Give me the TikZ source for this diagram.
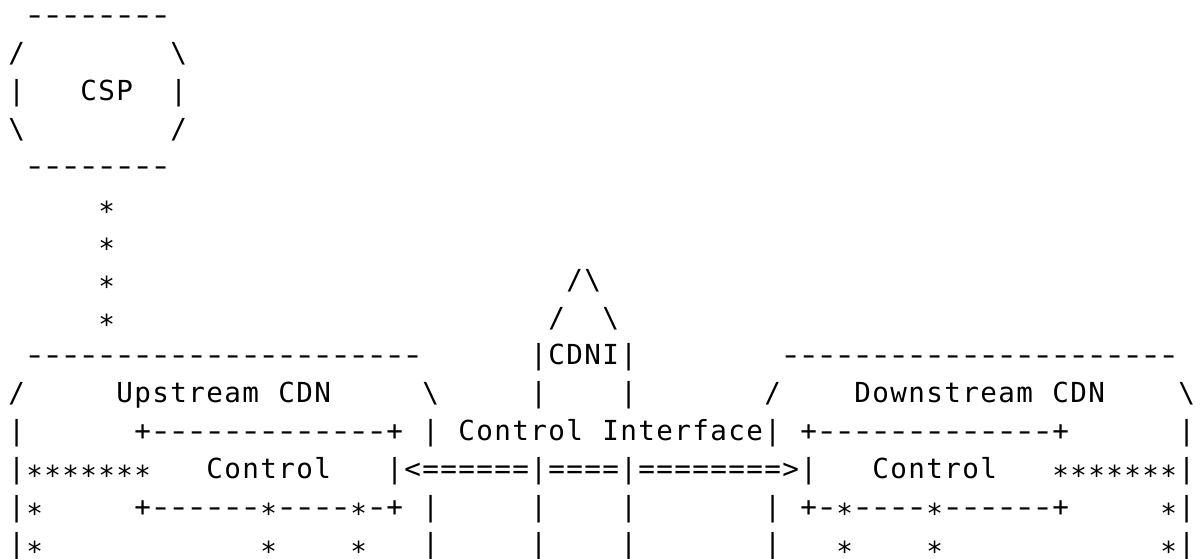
\documentclass[tikz,border=0pt]{standalone}
\usepackage{fontspec}
\usepackage{graphicx}
\newfontfamily\gridfont{DejaVu Sans Mono}

% every character sits in a fixed-width cell; "." in a row string is an empty cell
\newlength\cellw
\setlength\cellw{9pt}
\newcommand\cellchar[1]{\hbox to\cellw{\hss
  \ifx#1.\else
  \ifx#1*\raisebox{-0.27em}{*}\else
  \ifx#1-\scalebox{1.4}[1]{-}\else
  #1\fi\fi\fi\hss}}
\def\rowstop{\rowstop}
\def\rowtext#1{\rowscan#1\rowstop}
\def\rowscan#1{\ifx#1\rowstop\else\cellchar{#1}\expandafter\rowscan\fi}

\tikzset{
  row/.style={anchor=base west, inner sep=0pt, outer sep=0pt,
    font=\gridfont\fontsize{13.8pt}{13.8pt}\selectfont}
}

\begin{document}
\begin{tikzpicture}[x=0.5pt, y=-0.5pt]
\path[use as bounding box] (0,0) rectangle (1202,558);

% CSP
\node[row] (r0) at (7.7, 24.7) {\rowtext{.--------}};
\node[row] (r1) at (7.7, 62.5) {\rowtext{/........\textbackslash}};
\node[row] (r2) at (7.7,100.3) {\rowtext{|...CSP..|}};
\node[row] (r3) at (7.7,138.1) {\rowtext{\textbackslash......../}};
\node[row] (r4) at (7.7,175.9) {\rowtext{.--------}};
% link down to the upstream CDN, and the CDNI roof
\node[row] (r5) at (7.7,213.7) {\rowtext{.....*}};
\node[row] (r6) at (7.7,251.5) {\rowtext{.....*}};
\node[row] (r7) at (7.7,289.3) {\rowtext{.....*........................./\textbackslash}};
\node[row] (r8) at (7.7,327.1) {\rowtext{.....*......................../..\textbackslash}};
% the two CDNs and the control interface between them
\node[row] (r9)  at (7.7,364.9) {\rowtext{.----------------------......|CDNI|........----------------------}};
\node[row] (r10) at (7.7,402.7) {\rowtext{/.....Upstream.CDN.....\textbackslash.....|....|......./....Downstream.CDN....\textbackslash}};
\node[row] (r11) at (7.7,440.5) {\rowtext{|......+-------------+.|.Control.Interface|.+-------------+......|}};
\node[row] (r12) at (7.7,478.3) {\rowtext{|*******...Control...|<======|====|========>|...Control...*******|}};
\node[row] (r13) at (7.7,516.1) {\rowtext{|*.....+------*----*-+.|.....|....|.......|.+-*----*------+.....*|}};
\node[row] (r14) at (7.7,553.9) {\rowtext{|*............*....*...|.....|....|.......|...*....*............*|}};
\end{tikzpicture}
\end{document}
